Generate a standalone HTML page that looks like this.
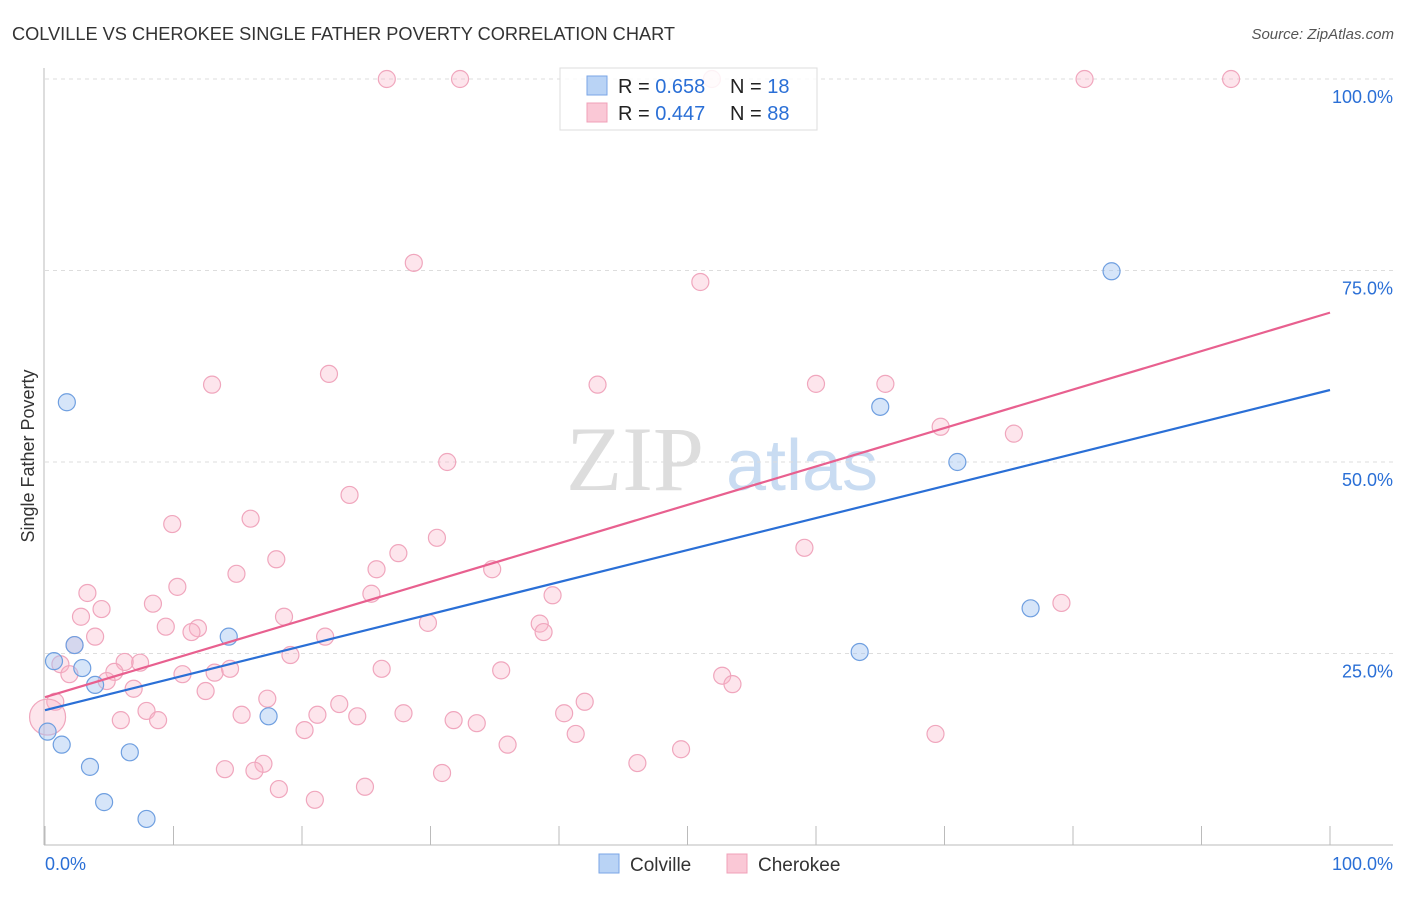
<!DOCTYPE html>
<html><head><meta charset="utf-8"><style>
body{margin:0;background:#fff;font-family:"Liberation Sans",sans-serif}
</style></head><body>
<svg width="1406" height="892" xmlns="http://www.w3.org/2000/svg" font-family="Liberation Sans, sans-serif">
<text x="12" y="40" font-size="18.2" fill="#333">COLVILLE VS CHEROKEE SINGLE FATHER POVERTY CORRELATION CHART</text>
<text x="1394" y="39" font-size="15" fill="#555" text-anchor="end" font-style="italic">Source: ZipAtlas.com</text>
<g>
<text x="635" y="490" font-size="92" fill="#ddd" font-family="Liberation Serif, serif" text-anchor="middle">ZIP</text>
<text x="802" y="490" font-size="72" fill="#c9dcf2" text-anchor="middle">atlas</text>
</g>
<g id="grid"></g>
<g id="axes"></g>
<g id="marks"></g>
<g>
<rect x="560" y="68" width="257" height="62" fill="#fff" fill-opacity="0.85" stroke="#ddd"/>
<rect x="587" y="76" width="20" height="19" fill="#b9d3f5" stroke="#7aa6e6"/>
<rect x="587" y="103" width="20" height="19" fill="#fac8d6" stroke="#f0a0b8"/>
<text x="618" y="93" font-size="20" fill="#222">R = <tspan fill="#2a6fd6">0.658</tspan></text>
<text x="730" y="93" font-size="20" fill="#222">N = <tspan fill="#2a6fd6"> 18</tspan></text>
<text x="618" y="120" font-size="20" fill="#222">R = <tspan fill="#2a6fd6">0.447</tspan></text>
<text x="730" y="120" font-size="20" fill="#222">N = <tspan fill="#2a6fd6">88</tspan></text>
</g>
<g>
<rect x="599" y="854" width="20" height="19" fill="#b9d3f5" stroke="#7aa6e6"/>
<text x="630" y="871" font-size="19" fill="#333">Colville</text>
<rect x="727" y="854" width="20" height="19" fill="#fac8d6" stroke="#f0a0b8"/>
<text x="758" y="871" font-size="19" fill="#333">Cherokee</text>
</g>
<text x="34" y="456" font-size="18" fill="#333" transform="rotate(-90 34 456)" text-anchor="middle">Single Father Poverty</text>
</svg>
<script>
const colvilleX=[1.7,0.7,2.3,2.9,3.9,0.2,1.3,3.5,4.6,6.6,7.9,14.3,17.4,63.4,65.0,71.0,76.7,83.0];
const colvilleY=[57.8,24.0,26.1,23.1,20.9,14.8,13.1,10.2,5.6,12.1,3.4,27.2,16.8,25.2,57.2,50.0,30.9,74.9];
const cherokeeX=[26.6,32.3,51.9,80.9,92.3,28.7,51.0,22.1,13.0,43.0,60.0,65.4,69.7,75.4,31.3,23.7,9.9,16.0,30.5,27.5,59.1,18.0,25.8,34.8,14.9,10.3,3.3,25.4,39.5,8.4,4.4,2.8,18.6,79.1,9.4,11.9,11.4,29.8,38.5,38.8,3.9,2.3,21.8,19.1,7.4,6.2,1.2,5.4,1.9,10.7,13.2,14.4,26.2,35.5,52.7,53.5,4.8,6.9,12.5,0.8,17.3,22.9,42.0,7.9,15.3,21.2,24.3,27.9,40.4,5.9,8.8,31.8,33.6,20.2,41.3,69.3,36.0,49.5,17.0,46.1,14.0,16.3,30.9,18.2,24.9,21.0,0.2];
const cherokeeY=[100,100,100,100,100,76.0,73.5,61.5,60.1,60.1,60.2,60.2,54.6,53.7,50.0,45.7,41.9,42.6,40.1,38.1,38.8,37.3,36.0,36.0,35.4,33.7,32.9,32.8,32.6,31.5,30.8,29.8,29.8,31.6,28.5,28.3,27.8,29.0,28.9,27.8,27.2,26.1,27.2,24.8,23.8,23.9,23.6,22.6,22.3,22.3,22.5,23.0,23.0,22.8,22.1,21.0,21.4,20.4,20.1,18.7,19.1,18.4,18.7,17.5,17.0,17.0,16.8,17.2,17.2,16.3,16.3,16.3,15.9,15.0,14.5,14.5,13.1,12.5,10.6,10.7,9.9,9.7,9.4,7.3,7.6,5.9,16.7];
const colvilleTrend=[17.6,59.4];
const cherokeeTrend=[19.3,69.5];
const yTicks=[25,50,75,100];
const yTickLabels=["25.0%","50.0%","75.0%","100.0%"];
const xTicks=[0,10,20,30,40,50,60,70,80,90,100];
const NS="http://www.w3.org/2000/svg";
const X=v=>45+v*12.85, Y=v=>845-v*7.66;
function mk(p,t,a){const e=document.createElementNS(NS,t);for(const k in a)e.setAttribute(k,a[k]);p.appendChild(e);return e;}
const grid=document.getElementById('grid'),axes=document.getElementById('axes'),marks=document.getElementById('marks');
yTicks.forEach((v,i)=>{
 const l=mk(grid,'line',{x1:45,x2:1393,y1:Y(v),y2:Y(v),stroke:'#ddd','stroke-dasharray':'4,4'});
 
 
 const t=mk(axes,'text',{x:1393,y:Y(v)+24,'font-size':18,fill:'#2a6fd6','text-anchor':'end'});
 t.textContent=yTickLabels[i];
 
 
});
mk(axes,'line',{x1:44,x2:44,y1:68,y2:845,stroke:'#bbb'});
mk(axes,'line',{x1:44,x2:1393,y1:845,y2:845,stroke:'#bbb'});
xTicks.forEach(v=>{const l=mk(axes,'line',{x1:X(v),x2:X(v),y1:826,y2:845,stroke:'#bbb'});
 
 });
let t0=mk(axes,'text',{x:45,y:870,'font-size':18,fill:'#2a6fd6'});t0.textContent='0.0%';


let t1=mk(axes,'text',{x:1393,y:870,'font-size':18,fill:'#2a6fd6','text-anchor':'end'});t1.textContent='100.0%';


cherokeeX.forEach((x,i)=>{const big=i===cherokeeX.length-1;
 const c=mk(marks,'circle',{cx:X(x),cy:Y(cherokeeY[i]),r:big?18:8.5,fill:'rgba(248,180,200,0.35)',stroke:'#f0a6bd','stroke-width':1.2});
 
 });
colvilleX.forEach((x,i)=>{
 const c=mk(marks,'circle',{cx:X(x),cy:Y(colvilleY[i]),r:8.5,fill:'rgba(165,198,242,0.45)',stroke:'#6f9fe0','stroke-width':1.2});
 
 });
const lb=mk(marks,'line',{x1:X(0),y1:Y(colvilleTrend[0]),x2:X(100),y2:Y(colvilleTrend[1]),stroke:'#2a6fd6','stroke-width':2.2});


const lp=mk(marks,'line',{x1:X(0),y1:Y(cherokeeTrend[0]),x2:X(100),y2:Y(cherokeeTrend[1]),stroke:'#e8608f','stroke-width':2.2});


</script>
</body></html>
